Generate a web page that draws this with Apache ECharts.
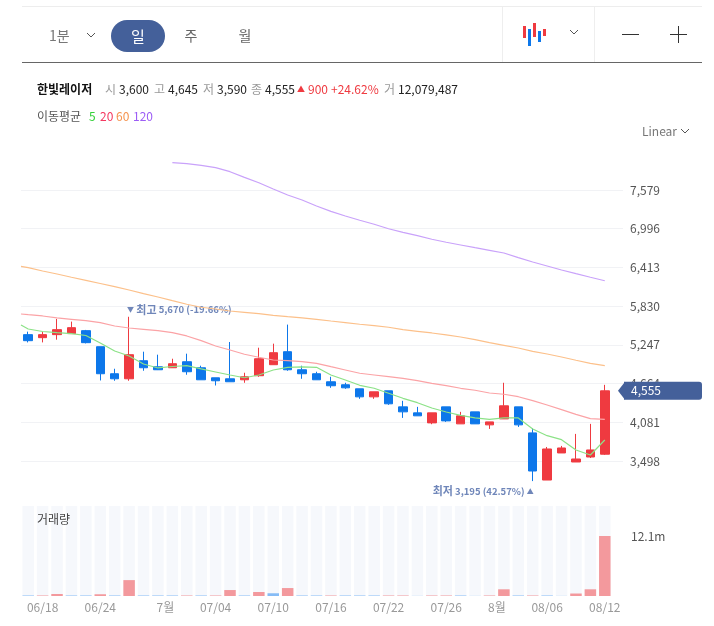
<!DOCTYPE html>
<html>
<head>
<meta charset="utf-8">
<title>한빛레이저</title>
<script src="https://cdn.jsdelivr.net/npm/echarts@6/dist/echarts.min.js"></script>
<style>
html,body{margin:0;padding:0;background:#fff;}
#main{width:714px;height:626px;}
</style>
</head>
<body>
<div id="main"></div>
<script type="text/javascript">
// 일봉 데이터
var categories = ['06/17','06/18','06/19','06/20','06/21','06/24','06/25','06/26','06/27','06/28','07/01','07/02','07/03','07/04','07/05','07/08','07/09','07/10','07/11','07/12','07/15','07/16','07/17','07/18','07/19','07/22','07/23','07/24','07/25','07/26','07/29','07/30','07/31','08/01','08/02','08/05','08/06','08/07','08/08','08/09','08/12'];
var opens = [5401,5355,5401,5416,5461,5219,4812,4736,5008,4917,4902,4993,4902,4751,4736,4721,4782,4948,5144,4872,4812,4691,4646,4585,4464,4555,4313,4223,4072,4313,4057,4238,4042,4132,4313,3921,3211,3619,3483,3558,3600];
var closes = [5310,5401,5476,5506,5280,4812,4736,5099,4902,4872,4963,4842,4721,4706,4691,4766,5038,5129,4872,4812,4721,4631,4600,4464,4540,4359,4238,4178,4223,4102,4178,4057,4087,4329,4042,3347,3679,3694,3528,3664,4555];
var lows = [5284,5284,5325,5416,5269,4711,4706,4706,4857,4868,4902,4797,4721,4635,4691,4676,4766,4948,4857,4736,4721,4600,4585,4434,4434,4344,4147,4178,4052,4087,4057,4057,3981,4132,4011,3195,3211,3619,3483,3543,3590];
var highs = [5446,5441,5638,5597,5472,5219,4887,5670,5144,5099,5038,5114,4933,4751,5290,4827,5204,5265,5552,4933,4842,4766,4676,4585,4540,4555,4404,4313,4223,4313,4238,4238,4087,4676,4313,3992,3709,3725,3906,4057,4645];

// 이동평균: 첫 값은 차트 왼쪽 끝에서 잘린 지점
var ma5 = [5546,5486,5448,5430,5415,5388,5275,5155,5079,4959,4899,4921,4933,4884,4838,4793,4752,4793,4868,4909,4914,4909,4793,4718,4638,4593,4518,4442,4376,4296,4236,4186,4146,4126,4146,4146,3980,3879,3819,3664,3588,3814];
var ma20 = [5712,5701,5682,5652,5632,5611,5581,5531,5501,5481,5460,5430,5381,5310,5230,5170,5105,5060,5019,5009,4993,4969,4918,4868,4819,4793,4768,4743,4707,4668,4632,4593,4563,4522,4503,4466,4406,4341,4271,4201,4135,4126];
var ma60 = [6430,6409,6359,6314,6265,6219,6171,6123,6073,6018,5968,5912,5858,5813,5787,5757,5737,5716,5692,5671,5652,5632,5606,5581,5557,5536,5512,5475,5451,5426,5396,5365,5325,5280,5240,5200,5150,5109,5064,5015,4969,4933];
var ma120 = [null,null,null,null,null,null,null,null,null,null,null,7990,7975,7951,7915,7855,7770,7689,7594,7504,7429,7338,7258,7188,7123,7063,6996,6942,6891,6837,6792,6751,6710,6671,6630,6560,6495,6435,6374,6319,6265,6213];

// 거래량 (백만), 1 = 상승색, 0 = 하락색
var volumes = [0.1,0.1,0.4,0.1,0.1,0.35,0.1,3.2,0.1,0.1,0.1,0.1,0.1,0.1,1.2,0.1,0.8,0.55,1.6,0.1,0.1,0.1,0.1,0.1,0.1,0.1,0.1,0.02,0.1,0.1,0.1,0.02,0.1,1.35,0.1,0.1,0.1,0.02,0.5,1.35,12.08];
var volumeUp = [0,1,1,0,0,1,0,1,0,0,0,1,0,1,1,0,1,0,1,0,0,1,0,0,0,1,1,0,1,1,0,0,1,1,0,1,0,0,1,1,1];

var priceTicks = [3498,4081,4664,5247,5830,6413,6996,7579];
var tickIndex = [1,5,10,13,17,21,25,29,33,36,40];
var tickText = ['06/18','06/24','7월','07/04','07/10','07/16','07/22','07/26','8월','08/06','08/12'];

var UP = '#ef3a40', DOWN = '#0d77ea', TAG = '#44609a', NOTE = '#6f86b9';
var FONT = '"Noto Sans CJK KR","Noto Sans",sans-serif';

function withEdge(arr) {
    return arr.map(function (v, i) { return [i === 0 ? -0.5 : i - 1, v]; });
}
function maSeries(name, arr, color) {
    return {
        name: name, type: 'line', xAxisIndex: 1, yAxisIndex: 0,
        data: withEdge(arr), showSymbol: false, silent: true,
        lineStyle: {color: color, width: 1.2}, z: 5
    };
}

var myChart = echarts.init(document.getElementById('main'));

var option = {
    animation: false,
    backgroundColor: '#fff',
    textStyle: {fontFamily: FONT},
    grid: [
        {left: 21, top: 151.3, width: 591, height: 348.4},
        {left: 21, top: 506, width: 591, height: 90},
        {left: 21, top: 151.3, width: 602, height: 348.4}
    ],
    xAxis: [
        {type: 'category', gridIndex: 0, data: categories, show: false},
        {type: 'value', gridIndex: 0, min: -0.5, max: 40.5, show: false},
        {
            type: 'category', gridIndex: 1, data: categories,
            axisLine: {show: false}, axisTick: {show: false}, splitLine: {show: false},
            axisLabel: {
                color: '#999', fontSize: 12, margin: 5, hideOverlap: false,
                interval: function (i) { return tickIndex.indexOf(i) >= 0; },
                formatter: function (v, i) {
                    var t = tickText[tickIndex.indexOf(i)];
                    return t.indexOf('월') > 0 ? '{m|' + t + '}' : t;
                },
                rich: {m: {color: '#999', fontSize: 12, padding: [0, 14, 0, 0]}}
            }
        },
        {type: 'value', gridIndex: 2, min: 0, max: 1, show: false}
    ],
    yAxis: [
        {type: 'value', gridIndex: 0, min: 2915, max: 8162, interval: 583, show: false},
        {
            type: 'value', gridIndex: 1, min: 0, max: 18.12, interval: 6.04, position: 'right',
            axisLine: {show: false}, axisTick: {show: false}, splitLine: {show: false},
            axisLabel: {
                color: '#555', fontSize: 12, margin: 19,
                formatter: function (v) { return Math.abs(v - 12.08) < 0.01 ? '12.1m' : ''; }
            }
        },
        {
            type: 'value', gridIndex: 2, min: 2915, max: 8162, interval: 583, position: 'right',
            axisLine: {show: false}, axisTick: {show: false},
            splitLine: {show: true, showMinLine: false, showMaxLine: false, lineStyle: {color: '#f1f2f5', width: 1}},
            axisLabel: {
                color: '#555', fontSize: 12, margin: 7, showMinLabel: true, showMaxLabel: true,
                formatter: function (v) {
                    return priceTicks.indexOf(v) >= 0 ? echarts.format.addCommas(v) : '';
                }
            }
        }
    ],
    series: [
        {
            name: '일', type: 'candlestick', xAxisIndex: 0, yAxisIndex: 0, barWidth: 9, z: 3,
            data: categories.map(function (c, i) { return [opens[i], closes[i], lows[i], highs[i]]; }),
            itemStyle: {color: UP, color0: DOWN, borderColor: UP, borderColor0: DOWN, borderWidth: 1},
            markPoint: {
                symbol: 'circle', symbolSize: 0, silent: true,
                data: [
                    {
                        coord: [categories[7], 5670],
                        label: {
                            show: true, position: 'right', offset: [-7, -7],
                            fontSize: 9.5, color: NOTE, fontWeight: 'bold',
                            formatter: '{a|▼} {t|최고} 5,670 (-19.66%)',
                            rich: {a: {fontSize: 7, color: NOTE}, t: {fontSize: 11, color: NOTE}}
                        }
                    },
                    {
                        coord: [categories[35], 3195],
                        label: {
                            show: true, position: 'left', offset: [6, 10],
                            fontSize: 9.5, color: NOTE, fontWeight: 'bold',
                            formatter: '{t|최저} 3,195 (42.57%) {a|▲}',
                            rich: {a: {fontSize: 7, color: NOTE}, t: {fontSize: 11, color: NOTE}}
                        }
                    }
                ]
            }
        },
        maSeries('120', ma120, '#c9a2fa'),
        maSeries('60', ma60, '#fcc08a'),
        maSeries('20', ma20, '#fba3a6'),
        maSeries('5', ma5, '#8ce287'),
        {
            name: '거래량', type: 'bar', xAxisIndex: 2, yAxisIndex: 1, barWidth: 11.5,
            showBackground: true, backgroundStyle: {color: '#f6f8fc'},
            data: volumes.map(function (v, i) {
                return {value: v, itemStyle: {color: volumeUp[i] ? '#f3999d' : '#86bcf6'}};
            })
        }
    ]
};
myChart.setOption(option);

// 차트 바깥의 툴바와 정보 줄
function txt(x, y, text, color, size, weight, align, z) {
    return {
        type: 'text', x: x, y: y, z: z || 20, silent: true,
        style: {
            text: text, fill: color, align: align || 'left', verticalAlign: 'middle',
            font: (weight || 'normal') + ' ' + (size || 12) + 'px ' + FONT
        }
    };
}
function line(x1, y1, x2, y2, color, w) {
    return {type: 'line', z: 20, silent: true, shape: {x1: x1, y1: y1, x2: x2, y2: y2}, style: {stroke: color, lineWidth: w || 1}};
}
function chevron(x, y, color) {
    return {type: 'polyline', z: 20, silent: true, shape: {points: [[x - 4, y - 2], [x, y + 2], [x + 4, y - 2]]}, style: {stroke: color, lineWidth: 1, fill: null}};
}
function iconBar(x, y1, y2, color) {
    return {type: 'rect', z: 20, silent: true, shape: {x: x, y: y1, width: 3, height: y2 - y1}, style: {fill: color}};
}

var tagY = myChart.convertToPixel({yAxisIndex: 0}, closes[closes.length - 1]);

myChart.setOption({
    graphic: [
        line(22, 6.5, 702, 6.5, '#ededed'),
        line(22, 62.5, 702, 62.5, '#666'),
        line(502.5, 7, 502.5, 62, '#eee'),
        line(594.5, 7, 594.5, 62, '#eee'),
        txt(49, 36, '1분', '#777', 14),
        chevron(91, 35, '#555'),
        {type: 'rect', z: 20, silent: true, shape: {x: 111, y: 20, width: 54, height: 32, r: 16}, style: {fill: TAG}},
        txt(138, 36, '일', '#fff', 15, 'normal', 'center'),
        txt(191, 36, '주', '#666', 14, 'normal', 'center'),
        txt(245, 36, '월', '#666', 14, 'normal', 'center'),
        iconBar(523, 26, 38, UP), iconBar(528, 29, 46, DOWN), iconBar(533, 23, 37, UP),
        iconBar(538, 31, 42, DOWN), iconBar(543, 29, 36, UP),
        chevron(574, 32, '#555'),
        line(622, 34.5, 639, 34.5, '#333'),
        line(670, 34.5, 687, 34.5, '#333'),
        line(678.5, 26, 678.5, 43, '#333'),

        txt(37, 89, '한빛레이저', '#111', 12, 'bold'),
        txt(105, 89, '시', '#999'), txt(119, 89, '3,600', '#222'),
        txt(154, 89, '고', '#999'), txt(168, 89, '4,645', '#222'),
        txt(203, 89, '저', '#999'), txt(217, 89, '3,590', '#222'),
        txt(251, 89, '종', '#999'), txt(265, 89, '4,555', '#222'),
        txt(297, 89, '▲', UP, 8),
        txt(308, 89, '900', UP), txt(331, 89, '+24.62%', UP),
        txt(384, 89, '거', '#999'), txt(398, 89, '12,079,487', '#222'),

        txt(37, 116, '이동평균', '#555'),
        txt(89, 116, '5', '#34d13a'), txt(100, 116, '20', '#f4365f'),
        txt(116, 116, '60', '#f5924d'), txt(133, 116, '120', '#9c5cf5'),
        txt(642, 131, 'Linear', '#777'),
        chevron(685, 131, '#555'),
        txt(37, 519, '거래량', '#444'),

        // 현재가 표시
        {type: 'polygon', z: 21, silent: true, shape: {points: [[618, tagY], [625, tagY - 9], [625, tagY + 9]]}, style: {fill: TAG}},
        {type: 'rect', z: 21, silent: true, shape: {x: 624, y: tagY - 9, width: 78, height: 18, r: [0, 3, 3, 0]}, style: {fill: TAG}},
        txt(631, tagY, echarts.format.addCommas(closes[closes.length - 1]), '#fff', 12, 'normal', 'left', 22)
    ]
});
</script>
</body>
</html>
